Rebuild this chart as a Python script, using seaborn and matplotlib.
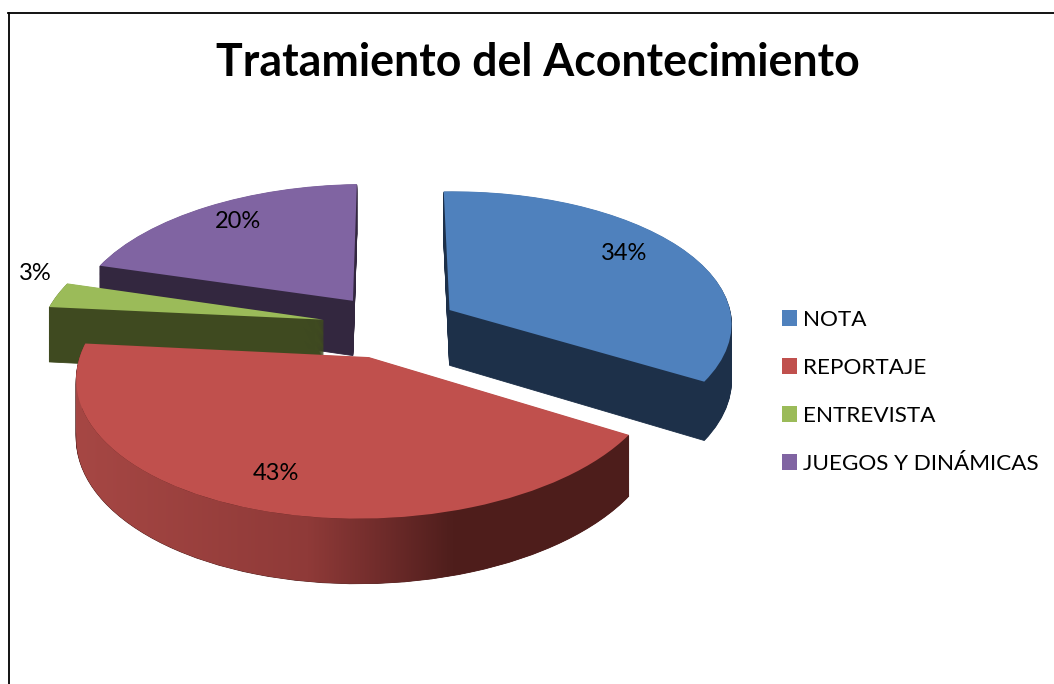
import numpy as np
import matplotlib
matplotlib.use("Agg")
import matplotlib.pyplot as plt
import seaborn as sns
from matplotlib.transforms import Transform
from matplotlib.path import Path
from matplotlib.patches import PathPatch, Patch
from matplotlib.colors import LinearSegmentedColormap

# ---- data ----
TITLE = "Tratamiento del Acontecimiento"
categories = ["NOTA", "REPORTAJE", "ENTREVISTA", "JUEGOS Y DINÁMICAS"]
values = [34, 43, 3, 20]
top_colors = ["#4f81bd", "#c0504d", "#9bbb59", "#8064a2"]
wall_colors = ["#1d3049", "#4f1e1c", "#3f4a20", "#33273f"]
red_wall_stops = ["#a64744", "#8f3a38", "#6e2b2a", "#4f1e1c", "#4d1d1b"]
label_xy = [(624, 253), (276, 474), (35, 274), (238, 221)]

# ---- projection of the tilted pie ----
CX, CY, RX, RY, K, DEPTH, SKEW = 392, 326, 283, 135.5, 0.114, 56, 0.03
explode = [0.235, 0.235, 0.25, 0.24]
draw_order = {3: 1, 2: 2, 0: 3, 1: 4}


class Tilted(Transform):
    input_dims = output_dims = 2
    is_separable = False
    has_inverse = False

    def __init__(self, z=0.0):
        super().__init__()
        self.z = z

    def transform_non_affine(self, pts):
        pts = np.asarray(pts, dtype=float)
        s = 1.0 / (1.0 + K * pts[:, 1])
        return np.column_stack(
            (CX + RX * pts[:, 0] * s,
             CY - RY * (pts[:, 1] + SKEW * pts[:, 0]) * s + DEPTH * self.z * s)
        )


sns.set_theme(style="white")
plt.rcParams["font.family"] = ["Lato", "DejaVu Sans"]

fig = plt.figure(figsize=(10.54, 6.84), dpi=100)
ax = fig.add_axes([8.5 / 1054, 0, 1 - 8.5 / 1054, 1 - 12.5 / 684])

n_layers = 60
for layer in range(n_layers, -1, -1):
    z = layer / n_layers
    colors = top_colors if layer == 0 else wall_colors
    wedges, _ = ax.pie(values, explode=explode, colors=colors, startangle=90,
                       counterclock=False, radius=1, normalize=True)
    tr = Tilted(z) + ax.transData
    for i, w in enumerate(wedges):
        w.set_transform(tr)
        w.set_zorder(draw_order[i] + 0.81 * (1 - z))
        if layer == 0:
            w.set_linewidth(0)
        else:
            w.set_edgecolor(colors[i])
            w.set_linewidth(0.6)

ax.set_aspect("auto")
ax.set_frame_on(True)
ax.set_xticks([])
ax.set_yticks([])
for side in ("right", "bottom"):
    ax.spines[side].set_visible(False)
for side in ("left", "top"):
    ax.spines[side].set_color("black")
    ax.spines[side].set_linewidth(1.3)

# gradient on the rim of the largest slice, clipped to its swept outline
fractions = np.cumsum([0] + values) / sum(values) * 2 * np.pi
a0, a1 = fractions[1], fractions[2]
mid = (a0 + a1) / 2
th = np.linspace(a0, a1, 240)
rim = np.column_stack((np.sin(th) + explode[1] * np.sin(mid),
                       np.cos(th) + explode[1] * np.cos(mid)))
upper = Tilted(0).transform_non_affine(rim)
lower = Tilted(1).transform_non_affine(rim)
quads = []
for p, q, r, t in zip(upper[:-1], upper[1:], lower[1:], lower[:-1]):
    quad = np.array([p, q, r, t, p])
    area = np.sum(quad[:-1, 0] * quad[1:, 1] - quad[1:, 0] * quad[:-1, 1])
    quads.append(Path(quad if area > 0 else quad[::-1]))
x0, x1 = min(upper[:, 0].min(), lower[:, 0].min()), max(upper[:, 0].max(), lower[:, 0].max())
y0, y1 = min(upper[:, 1].min(), lower[:, 1].min()), max(upper[:, 1].max(), lower[:, 1].max())
cmap = LinearSegmentedColormap.from_list(
    "rim", list(zip([0, 0.42, 0.56, 0.68, 1], red_wall_stops)))
im = ax.imshow(np.linspace(0, 1, 256)[None, :], extent=(x0, x1, y1, y0),
               aspect="auto", cmap=cmap, zorder=draw_order[1] + 0.805, interpolation="bilinear")
clip = PathPatch(Path.make_compound_path(*quads), transform=ax.transData, visible=False)
ax.add_patch(clip)
im.set_clip_path(clip)
ax.set_xlim(8.5, 1054)
ax.set_ylim(684, 12.5)

# value labels
for v, (lx, ly) in zip(values, label_xy):
    ax.text(lx, ly, f"{v}%", ha="center", va="center", fontsize=17, color="black",
            zorder=10)

ax.text(538, 63, TITLE, ha="center", va="center", fontsize=32.1, fontweight="bold",
        color="black", zorder=10)

handles = [Patch(facecolor=c, edgecolor="none") for c in top_colors]
ax.legend(handles, categories, loc="center left",
          bbox_to_anchor=(782 / 1054, (684 - 392) / 684), bbox_transform=fig.transFigure,
          frameon=False, fontsize=16.2, labelcolor="black", handlelength=0.68, handleheight=0.68,
          handletextpad=0.24, labelspacing=1.245, borderpad=0, borderaxespad=0)

fig.savefig("out.png", dpi=100)
